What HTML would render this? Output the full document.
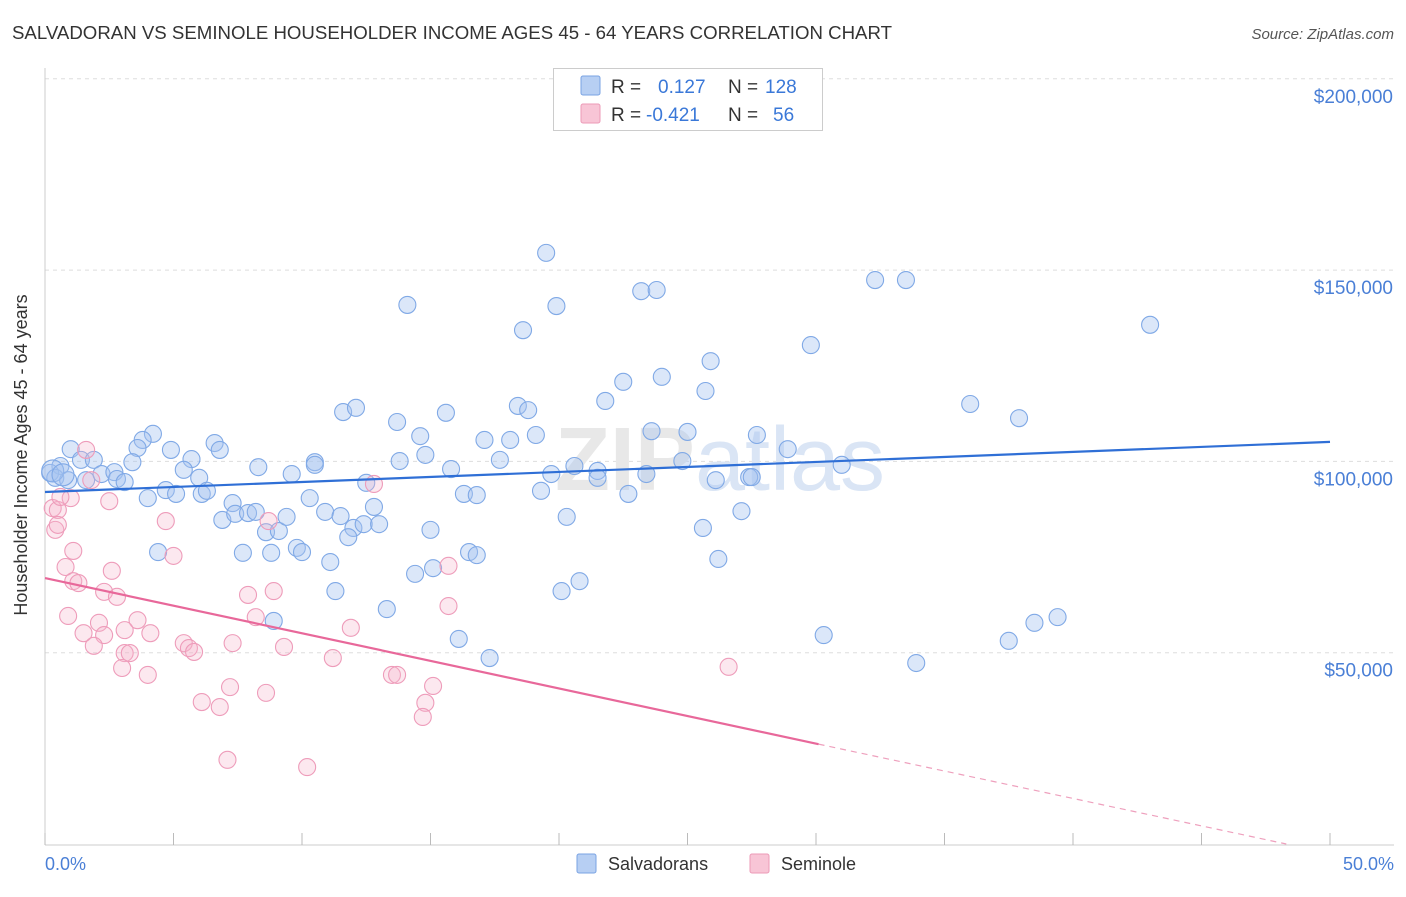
<!DOCTYPE html>
<html><head><meta charset="utf-8"><style>
body{margin:0;background:#fff;font-family:"Liberation Sans",sans-serif}
svg text{font-family:"Liberation Sans",sans-serif}
</style></head><body>
<svg id="chart" width="1406" height="892" viewBox="0 0 1406 892" xmlns="http://www.w3.org/2000/svg">
<text x="12" y="39" font-size="18" fill="#333" textLength="880" lengthAdjust="spacingAndGlyphs">SALVADORAN VS SEMINOLE HOUSEHOLDER INCOME AGES 45 - 64 YEARS CORRELATION CHART</text>
<text x="1394" y="39" font-size="15" fill="#555" font-style="italic" text-anchor="end">Source: ZipAtlas.com</text>
<g id="grid"></g>
<text x="720" y="490" font-size="90" font-weight="bold" fill="#e8e8e8" text-anchor="middle" font-family="Liberation Serif">ZIP<tspan fill="#dae5f5" font-family="Liberation Sans" font-weight="normal">atlas</tspan></text>
<g id="marks"></g>
<text x="27" y="455" font-size="18" fill="#333" text-anchor="middle" transform="rotate(-90 27 455)">Householder Income Ages 45 - 64 years</text>
<text x="45" y="870" font-size="18" fill="#4a7fd6">0.0%</text>
<text x="1394" y="870" font-size="18" fill="#4a7fd6" text-anchor="end">50.0%</text>
<g>
<rect x="553.5" y="68.5" width="269" height="62" fill="#fff" stroke="#ccc"/>
<rect x="581" y="76" width="19" height="19" fill="#b7cff3" stroke="#7aa3e3" rx="2"/>
<rect x="581" y="104" width="19" height="19" fill="#f8c5d6" stroke="#ec9ab7" rx="2"/>
<text x="611" y="93" font-size="19" fill="#333">R = <tspan fill="#3a78d8" x="658">0.127</tspan><tspan fill="#333" x="728">N =</tspan><tspan fill="#3a78d8" x="765">128</tspan></text>
<text x="611" y="121" font-size="19" fill="#333">R = <tspan fill="#3a78d8" x="646">-0.421</tspan><tspan fill="#333" x="728">N =</tspan><tspan fill="#3a78d8" x="773">56</tspan></text>
</g>
<g>
<rect x="577" y="854" width="19" height="19" fill="#b7cff3" stroke="#7aa3e3" rx="2"/>
<text x="608" y="870" font-size="18" fill="#333">Salvadorans</text>
<rect x="750" y="854" width="19" height="19" fill="#f8c5d6" stroke="#ec9ab7" rx="2"/>
<text x="781" y="870" font-size="18" fill="#333">Seminole</text>
</g>
</svg>
<script>
const yTicks=[50000,100000,150000,200000];
const yTickLabels=["$50,000","$100,000","$150,000","$200,000"];
const xTicks=[0,5,10,15,20,25,30,35,40,45,50];
const blueX=[19.5,14.1,19.9,23.2,23.8,32.3,33.5,18.6,29.8,43.0,25.9,24.0,22.5,25.7,21.8,36.0,37.9,11.6,12.1,15.6,18.4,18.8,13.7,14.6,17.1,18.1,19.1,23.6,25.0,27.7,28.9,4.2,3.8,1.0,6.6,6.8,4.9,3.6,5.7,3.4,1.4,1.9,0.6,0.2,0.4,0.9,1.6,2.2,2.7,2.8,3.1,5.4,6.0,8.3,9.6,10.5,10.5,13.8,14.8,15.8,17.7,20.6,19.7,21.5,21.5,23.4,24.8,26.1,27.4,27.5,31.0,4.0,4.7,5.1,6.1,6.3,7.3,6.9,7.4,7.9,8.2,8.6,9.1,9.4,10.3,10.9,11.5,12.0,11.8,12.4,13.0,12.8,12.5,15.0,16.3,16.8,19.3,20.3,22.7,25.6,27.1,4.4,7.7,8.8,9.8,10.0,11.1,11.3,13.3,14.4,15.1,16.5,16.8,20.8,20.1,26.2,16.1,17.3,8.9,30.3,38.5,39.4,37.5,33.9,0.3,0.7];
const blueY=[154.5,140.9,140.6,144.5,144.8,147.4,147.4,134.3,130.4,135.7,126.2,122.1,120.8,118.4,115.8,115.0,111.3,112.9,114.0,112.7,114.5,113.4,110.3,106.6,105.6,105.6,106.9,107.9,107.7,106.9,103.2,107.2,105.6,103.2,104.8,103.0,103.0,103.5,100.6,99.8,100.4,100.4,98.8,97.0,95.7,95.1,95.1,96.7,97.2,95.4,94.6,97.8,95.7,98.5,96.7,99.8,99.1,100.1,101.7,98.0,100.4,98.8,96.7,97.5,95.7,96.7,100.1,95.1,95.9,95.9,99.1,90.4,92.5,91.5,91.5,92.3,89.1,84.7,86.3,86.5,86.8,81.5,81.8,85.5,90.4,86.8,85.7,82.6,80.2,83.6,83.6,88.1,94.4,82.1,91.5,91.2,92.3,85.5,91.5,82.6,87.0,76.3,76.1,76.1,77.4,76.3,73.7,66.1,61.4,70.6,72.1,76.3,75.5,68.7,66.1,74.5,53.6,48.6,58.3,54.6,57.8,59.3,53.1,47.3,97.5,96.5];
const pinkX=[1.6,0.3,0.5,0.4,0.5,2.5,4.7,8.7,12.8,1.8,1.1,5.0,0.8,2.6,1.1,1.3,2.3,2.8,3.6,0.9,2.1,1.5,3.1,4.1,2.3,1.9,5.4,5.6,5.8,7.3,8.2,9.3,8.9,7.9,15.7,15.7,11.9,11.2,3.1,3.3,3.0,4.0,7.2,8.6,6.1,6.8,13.5,13.7,15.1,14.8,14.7,7.1,10.2,26.6,1.0,0.6];
const pinkY=[103.0,87.8,87.3,82.1,83.4,89.6,84.4,84.4,94.1,95.1,76.6,75.3,72.4,71.4,68.7,68.2,65.9,64.6,58.5,59.6,57.8,55.1,55.9,55.1,54.6,51.8,52.5,51.2,50.2,52.5,59.3,51.5,66.1,65.1,72.7,62.2,56.5,48.6,49.9,49.9,46.0,44.2,41.0,39.5,37.1,35.8,44.2,44.2,41.3,36.9,33.2,22.0,20.1,46.3,90.4,90.7];
const blueTrend=[[0,92.0],[50,105.1]];
const pinkTrend=[[0,69.5],[30.1,26.1],[48.3,0]];

const NS="http://www.w3.org/2000/svg";
const X0=45,X1=1330,Y0=844,PX_PER_K=3.826;
const sx=v=>X0+(v/50)*(X1-X0);
const sy=k=>Y0-k*PX_PER_K;
function mk(tag,attrs,parent){const e=document.createElementNS(NS,tag);for(const k in attrs)e.setAttribute(k,attrs[k]);parent.appendChild(e);return e;}
const grid=document.getElementById('grid');
yTicks.forEach((t,i)=>{
  const l=mk('line',{x1:X0,x2:1394,y1:sy(t/1000),y2:sy(t/1000),stroke:'#ddd','stroke-dasharray':'4,4'},grid);
  
  
  const tx=mk('text',{x:1393,y:sy(t/1000)+24,'font-size':19,fill:'#4a7fd6','text-anchor':'end'},grid);
  tx.textContent=yTickLabels[i];
  
  
});
const ax=mk('line',{x1:X0,x2:X0,y1:68,y2:845,stroke:'#ccc'},grid);


const bx=mk('line',{x1:X0,x2:1394,y1:845,y2:845,stroke:'#ccc'},grid);


xTicks.forEach(t=>{
  const l=mk('line',{x1:sx(t),x2:sx(t),y1:833,y2:845,stroke:'#bbb'},grid);
  
  
});
const marks=document.getElementById('marks');
blueX.forEach((x,i)=>{
  const c=mk('circle',{cx:sx(x),cy:sy(blueY[i]),r:(i>=blueX.length-2)?11:8.5,fill:'rgba(165,196,240,0.4)',stroke:'#80a9e6','stroke-width':1.1},marks);
  
  
});
pinkX.forEach((x,i)=>{
  const c=mk('circle',{cx:sx(x),cy:sy(pinkY[i]),r:8.5,fill:'rgba(246,180,203,0.3)',stroke:'#ee9cba','stroke-width':1.1},marks);
  
  
});
const bl=mk('line',{x1:sx(blueTrend[0][0]),y1:sy(blueTrend[0][1]),x2:sx(blueTrend[1][0]),y2:sy(blueTrend[1][1]),stroke:'#2f6fd6','stroke-width':2.2},marks);


const pl=mk('line',{x1:sx(pinkTrend[0][0]),y1:sy(pinkTrend[0][1]),x2:sx(pinkTrend[1][0]),y2:sy(pinkTrend[1][1]),stroke:'#e8689a','stroke-width':2.2},marks);


const pd=mk('line',{x1:sx(pinkTrend[1][0]),y1:sy(pinkTrend[1][1]),x2:sx(pinkTrend[2][0]),y2:sy(pinkTrend[2][1]),stroke:'#eea0bd','stroke-width':1.2,'stroke-dasharray':'6,5'},marks);


</script>
</body></html>
